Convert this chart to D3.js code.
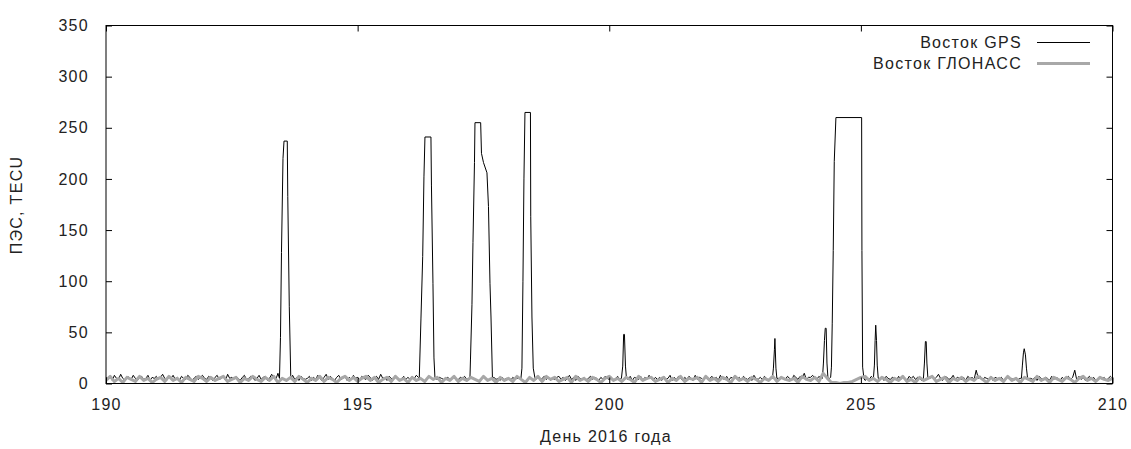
<!DOCTYPE html>
<html><head><meta charset="utf-8">
<script src="https://cdn.jsdelivr.net/npm/d3@7"></script>
<style>
html,body{margin:0;padding:0;background:#fff;}
svg text{font-family:"Liberation Sans",Arial,sans-serif;font-size:16px;fill:#222;letter-spacing:1.3px;}
</style></head>
<body><svg id="c" width="1131" height="449"></svg>
<script>
// ---- data ----
const xTicks = [190, 195, 200, 205, 210];
const yTicks = [0, 50, 100, 150, 200, 250, 300, 350];
const seriesNames = ["Восток GPS", "Восток ГЛОНАСС"];
const xTitle = "День 2016 года";
const yTitle = "ПЭС, TECU";

// GPS background TEC, hourly from day 190.0 (24 values per day)
const gpsNoise = [
 6,4,7,3,8,5,4,9,5,3,7,6,4,8,5,3,6,7,4,5,8,3,6,5,
 7,4,6,9,5,3,7,5,8,4,6,3,7,5,4,8,6,3,5,7,4,6,8,5,
 4,7,5,3,6,8,4,5,7,3,9,5,6,4,7,5,3,6,8,4,5,7,6,3,
 5,8,4,6,7,3,5,9,6,4,10,5,5,5,5,5,5,8,4,6,3,7,5,4,
 5,7,3,6,4,8,5,3,6,9,4,7,5,3,6,8,4,5,7,3,6,4,8,5,
 6,3,7,5,4,8,6,3,5,7,4,9,5,6,3,7,5,4,8,6,3,5,7,4,
 6,4,7,5,8,6,5,5,5,5,5,5,5,5,4,6,5,4,5,6,4,5,6,3,
 4,6,5,7,4,5,5,5,5,5,5,5,5,5,5,5,5,6,4,5,3,6,4,5,
 5,3,6,4,5,5,5,5,5,5,5,5,5,4,6,3,5,7,4,6,3,5,4,6,
 7,4,6,3,5,8,4,6,3,7,5,4,6,3,5,7,4,6,5,3,6,4,7,5,
 4,6,3,5,7,4,5,5,5,4,7,3,6,5,4,7,3,6,4,8,5,3,6,4,
 6,3,7,4,5,8,3,6,4,7,5,3,6,4,7,5,3,8,4,6,5,3,7,4,
 5,7,4,6,3,8,5,4,7,3,6,5,8,4,6,3,7,5,4,6,3,8,5,4,
 6,4,7,5,3,6,5,4,5,5,5,5,4,7,5,3,8,6,4,7,5,10,4,6,
 6,8,5,4,7,5,5,5,5,5,5,5,5,5,5,5,5,5,5,5,5,5,5,5,
 5,6,3,5,4,7,5,5,5,5,6,3,7,5,4,6,5,3,7,4,6,5,3,7,
 5,7,4,6,5,3,5,5,5,5,7,4,6,9,5,3,7,6,4,5,8,4,6,5,
 4,6,3,7,5,6,4,13,5,7,3,6,5,4,7,3,6,5,4,6,3,5,7,4,
 5,3,6,4,5,7,5,5,5,5,4,6,3,7,5,4,6,5,3,7,4,6,5,3,
 6,4,5,7,4,6,13,3,7,4,6,3,5,7,4,6,3,5,7,4,6,3,5,7,
 5
];

// GPS saturated / outlier episodes: [day, TEC] points
const spikeA = [[193.447,5],[193.467,45],[193.487,128],[193.517,220],[193.537,237],[193.602,237],[193.612,183],[193.642,75],[193.672,5]];
const spikeB = [[196.225,5],[196.259,64],[196.293,124],[196.318,202],[196.338,241],[196.457,241],[196.467,194],[196.497,98],[196.517,25],[196.537,5]];
const spikeC = [[197.232,5],[197.242,23],[197.272,77],[197.292,138],[197.322,216],[197.332,255],[197.445,255],[197.461,225],[197.501,216],[197.570,206],[197.600,173],[197.630,98],[197.650,65],[197.679,5]];
const spikeD = [[198.245,5],[198.265,15],[198.285,100],[198.305,200],[198.325,265],[198.434,265],[198.440,163],[198.464,65],[198.490,15],[198.524,5]];
const spikeE = [[200.242,5],[200.268,17],[200.286,48],[200.302,48],[200.322,17],[200.342,5]];
const spikeF = [[203.242,5],[203.262,15],[203.282,33],[203.292,44],[203.312,15],[203.331,5]];
const spikeG = [[204.236,5],[204.256,20],[204.276,42],[204.292,54],[204.310,54],[204.326,20],[204.346,5]];
const spikeH = [[204.399,6],[204.415,16],[204.431,59],[204.451,130],[204.471,217],[204.504,260],[205.015,260],[205.021,130],[205.035,16],[205.061,5]];
const spikeI = [[205.249,5],[205.269,18],[205.283,42],[205.295,57],[205.311,42],[205.325,18],[205.345,5]];
const spikeJ = [[206.243,5],[206.263,20],[206.282,41],[206.298,41],[206.312,20],[206.332,5]];
const spikeK = [[208.190,5],[208.210,18],[208.230,30],[208.246,34],[208.270,28],[208.290,15],[208.313,5]];

// GLONASS TEC, every 2 hours from day 190.0 (12 values per day)
const glonass = [
 3,7,2,5,1,6,4,2,7,3,5,1,
 4,6,2,7,3,5,1,6,4,2,7,5,
 2,6,3,5,7,2,4,6,1,5,3,7,
 4,2,6,3,7,1,5,3,6,2,7,4,
 1,5,3,7,2,6,4,1,5,7,3,6,
 2,5,7,3,6,1,4,6,2,7,3,5,
 1,6,3,5,2,7,4,6,1,5,3,7,
 2,5,3,6,4,2,7,3,5,1,6,3,
 5,2,7,4,1,6,3,7,2,7,4,6,
 2,4,6,1,7,3,5,2,6,4,1,5,
 7,3,5,2,6,4,1,7,3,5,6,2,
 4,6,1,5,3,7,2,5,4,6,1,7,
 3,5,2,6,4,1,7,3,5,2,6,4,
 1,5,3,7,2,6,4,3,5,1,7,4,
 3,6,2,10,5,1,1,0,1,1,2,4,
 6,7,3,5,2,6,4,1,5,3,7,2,
 4,1,6,3,5,7,2,4,6,1,5,3,
 6,2,5,3,7,4,1,6,3,5,2,7,
 3,5,1,6,4,2,7,3,5,1,6,4,
 2,6,4,1,5,7,3,5,2,6,4,3,
 5
];

// ---- build series ----
const spikes = [spikeA, spikeB, spikeC, spikeD, spikeE, spikeF, spikeG, spikeH, spikeI, spikeJ, spikeK];
let gps = gpsNoise.map((v, i) => [190 + i / 24, v])
  .filter(([d]) => !spikes.some(s => d >= s[0][0] && d <= s[s.length - 1][0]));
spikes.forEach(s => gps = gps.concat(s));
gps.sort((a, b) => a[0] - b[0]);
const glo = glonass.map((v, i) => [190 + i / 12, v]);

// ---- chart ----
const svg = d3.select("#c");
const L = 106, R = 1112.5, T = 25.5, B = 383.5;
const x = d3.scaleLinear().domain([190, 210]).range([L, R]);
const y = d3.scaleLinear().domain([0, 350]).range([B, T]);

const clip = svg.append("clipPath").attr("id", "pc").append("rect")
  .attr("x", L).attr("y", T).attr("width", R - L).attr("height", B - T);

const line = d3.line().x(d => x(d[0])).y(d => y(d[1]));
const g = svg.append("g").attr("clip-path", "url(#pc)");
g.append("path").datum(gps).attr("d", line)
  .attr("fill", "none").attr("stroke", "#000").attr("stroke-width", 1);
g.append("path").datum(glo).attr("d", line)
  .attr("fill", "none").attr("stroke", "#a8a8a8").attr("stroke-width", 3).attr("stroke-linejoin", "round");

// axes with inward ticks on all four sides
const tk = 6;
const axB = svg.append("g").attr("transform", `translate(0,${B})`)
  .call(d3.axisBottom(x).tickValues(xTicks).tickSize(-tk).tickPadding(15).tickFormat(d3.format("d")));
const axT = svg.append("g").attr("transform", `translate(0,${T})`)
  .call(d3.axisTop(x).tickValues(xTicks).tickSize(-tk).tickFormat(""));
const axL = svg.append("g").attr("transform", `translate(${L},0)`)
  .call(d3.axisLeft(y).tickValues(yTicks).tickSize(-tk).tickPadding(17).tickFormat(d3.format("d")));
const axR = svg.append("g").attr("transform", `translate(${R},0)`)
  .call(d3.axisRight(y).tickValues(yTicks).tickSize(-tk).tickFormat(""));
[axB, axT, axL, axR].forEach(a => {
  a.select(".domain").remove();
  a.selectAll("line").attr("stroke", "#000");
  a.selectAll("text").attr("font-size", null).attr("font-family", null).attr("fill", "#222");
});
axB.selectAll("text").attr("dy", "0.71em");

svg.append("rect").attr("x", L).attr("y", T).attr("width", R - L).attr("height", B - T)
  .attr("fill", "none").attr("stroke", "#000").attr("stroke-width", 1);

// titles
svg.append("text").attr("x", 606).attr("y", 442).attr("text-anchor", "middle").text(xTitle);
svg.append("text").attr("transform", "translate(22,205) rotate(-90)").attr("text-anchor", "middle").text(yTitle);

// legend
const leg = [{name: seriesNames[0], color: "#000", w: 1, yy: 42}, {name: seriesNames[1], color: "#a8a8a8", w: 3, yy: 63}];
leg.forEach(l => {
  svg.append("text").attr("x", 1022).attr("y", l.yy).attr("dy", "0.35em").attr("text-anchor", "end").text(l.name);
  svg.append("line").attr("x1", 1037).attr("x2", 1090).attr("y1", l.yy + 0.5).attr("y2", l.yy + 0.5)
    .attr("stroke", l.color).attr("stroke-width", l.w);
});
</script></body></html>
